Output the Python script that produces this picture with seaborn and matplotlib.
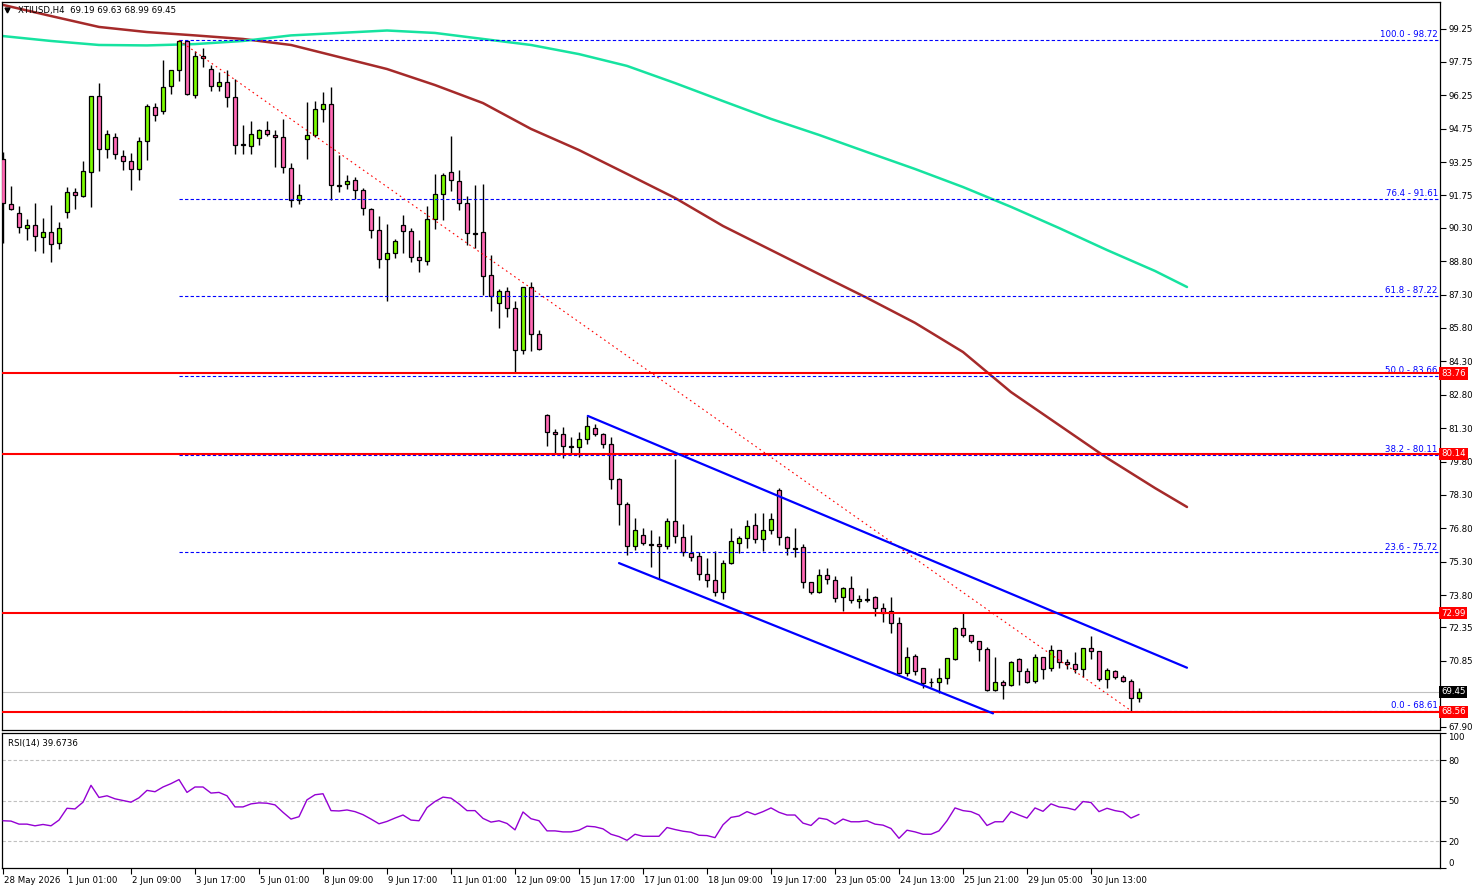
import numpy as np
import pandas as pd
import matplotlib
matplotlib.use("Agg")
import matplotlib.pyplot as plt
import matplotlib.transforms as mtransforms
import seaborn as sns

# ---------------- data ----------------
opens = [93.38, 91.37, 90.95, 90.28, 90.41, 89.87, 90.10, 89.60, 91.00, 91.89,
         91.74, 92.79, 96.20, 93.82, 94.36, 93.51, 93.29, 92.93, 94.18, 95.71,
         95.53, 96.65, 97.37, 98.67, 96.25, 98.00, 97.42, 96.65, 96.83, 96.16,
         94.07, 93.96, 94.32, 94.68, 94.45, 94.36, 92.97, 91.53, 94.27, 94.45,
         95.62, 95.85, 92.23, 92.25, 92.43, 91.98, 91.13, 90.19, 88.88, 89.15,
         90.41, 90.14, 88.97, 88.79, 90.68, 91.80, 92.79, 92.39, 91.40, 90.07,
         90.10, 88.16, 86.91, 87.45, 86.68, 84.80, 87.63, 85.52, 81.88, 81.11,
         81.02, 80.51, 80.44, 80.80, 81.29, 81.02, 80.58, 79.00, 77.88, 76.00,
         76.49, 76.11, 76.09, 76.00, 77.12, 76.40, 75.68, 75.55, 74.74, 74.47,
         73.93, 75.23, 76.13, 76.35, 76.94, 76.31, 76.71, 78.51, 76.40, 75.93,
         75.95, 74.38, 73.93, 74.69, 74.47, 73.70, 74.11, 73.52, 73.63, 73.70,
         73.21, 73.07, 72.54, 70.32, 71.05, 70.51, 69.92, 69.89, 70.09, 70.92,
         72.32, 72.00, 71.73, 71.37, 69.53, 69.91, 69.75, 70.92, 70.38, 69.93,
         71.01, 70.51, 71.32, 70.81, 70.69, 70.47, 71.41, 71.28, 70.05, 70.38,
         70.11, 69.93, 69.19]
highs = [93.69, 92.18, 91.28, 90.69, 91.40, 90.73, 91.32, 90.55, 92.13, 92.09,
         93.30, 96.22, 96.79, 94.69, 94.54, 93.79, 93.64, 94.36, 95.85, 95.89,
         97.82, 97.39, 98.72, 98.70, 98.23, 98.36, 97.60, 97.28, 97.37, 96.97,
         94.90, 95.08, 94.72, 95.08, 94.68, 95.17, 93.20, 92.25, 95.94, 95.98,
         96.38, 96.61, 93.56, 92.66, 92.57, 92.07, 91.17, 90.81, 90.46, 89.78,
         90.87, 90.28, 89.74, 91.26, 92.70, 92.75, 94.42, 92.88, 91.71, 92.21,
         92.25, 89.06, 87.54, 87.63, 87.00, 87.65, 87.85, 85.69, 81.92, 81.25,
         81.34, 80.89, 81.11, 81.83, 81.47, 81.07, 80.89, 79.05, 77.97, 77.25,
         76.80, 76.71, 76.44, 77.25, 79.90, 77.01, 76.49, 75.72, 75.45, 75.77,
         75.37, 76.80, 76.44, 77.16, 77.48, 77.48, 77.48, 78.60, 76.44, 76.80,
         76.09, 74.40, 74.96, 75.01, 74.65, 74.15, 74.65, 73.79, 74.11, 73.75,
         73.43, 73.73, 72.83, 71.46, 71.14, 70.52, 70.09, 70.54, 70.97, 72.36,
         73.03, 72.01, 71.74, 71.46, 71.01, 70.00, 70.86, 70.96, 70.51, 71.14,
         71.02, 71.55, 71.33, 70.92, 71.23, 71.42, 71.95, 71.29, 70.51, 70.42,
         70.20, 70.05, 69.63]
lows = [89.60, 91.10, 90.05, 89.75, 89.27, 89.15, 88.75, 89.36, 90.75, 91.16,
        91.70, 91.25, 92.86, 93.45, 93.40, 92.91, 92.01, 92.46, 93.36, 95.11,
        95.42, 96.29, 96.91, 96.25, 96.12, 97.51, 96.43, 96.43, 95.71, 93.60,
        93.60, 93.60, 94.03, 94.41, 93.02, 92.77, 91.22, 91.38, 93.38, 94.36,
        95.06, 91.53, 91.89, 92.03, 91.58, 90.86, 89.83, 88.48, 87.00, 88.93,
        89.15, 88.75, 88.30, 88.61, 90.23, 90.65, 91.94, 91.08, 89.51, 89.38,
        87.27, 86.55, 85.78, 86.28, 83.81, 84.62, 84.75, 84.80, 80.49, 80.17,
        79.95, 80.17, 79.99, 80.58, 80.93, 80.40, 78.55, 76.94, 75.59, 75.81,
        76.04, 75.05, 74.51, 75.86, 76.13, 75.55, 75.32, 74.47, 74.15, 73.75,
        73.61, 75.18, 75.68, 75.90, 76.13, 75.77, 76.53, 76.04, 75.59, 75.50,
        74.11, 73.84, 73.90, 74.29, 73.48, 73.07, 73.43, 73.21, 73.48, 72.88,
        72.61, 72.09, 70.28, 70.17, 70.20, 69.62, 69.66, 69.39, 69.80, 70.87,
        71.91, 71.64, 70.83, 69.48, 69.48, 69.12, 69.74, 69.75, 69.84, 69.84,
        70.02, 70.38, 70.54, 70.47, 70.29, 70.11, 70.92, 69.96, 69.62, 70.02,
        69.92, 68.61, 68.99]
closes = [91.40, 91.16, 90.32, 90.41, 89.92, 90.10, 89.56, 90.28, 91.89, 91.76,
          92.84, 96.20, 93.82, 94.50, 93.60, 93.29, 92.93, 94.18, 95.76, 95.35,
          96.61, 97.37, 98.67, 96.29, 98.00, 97.91, 96.65, 96.83, 96.16, 94.00,
          94.03, 94.50, 94.68, 94.50, 94.36, 93.02, 91.53, 91.76, 94.45, 95.62,
          95.85, 92.21, 92.19, 92.39, 91.98, 91.17, 90.19, 88.88, 89.15, 89.69,
          90.14, 88.97, 88.84, 90.68, 91.80, 92.66, 92.43, 91.40, 90.05, 90.03,
          88.12, 87.22, 87.45, 86.68, 84.80, 87.63, 85.52, 84.84, 81.11, 81.02,
          80.49, 80.47, 80.80, 81.38, 81.02, 80.58, 79.00, 77.88, 76.00, 76.71,
          76.13, 76.07, 76.00, 77.12, 76.44, 75.72, 75.50, 74.74, 74.47, 73.93,
          75.23, 76.22, 76.35, 76.89, 76.31, 76.71, 77.21, 76.40, 75.90, 75.89,
          74.38, 73.93, 74.69, 74.51, 73.66, 74.11, 73.57, 73.61, 73.59, 73.21,
          73.01, 72.54, 70.30, 71.01, 70.38, 69.84, 69.88, 70.09, 70.96, 72.32,
          72.00, 71.73, 71.37, 69.53, 69.89, 69.75, 70.78, 70.38, 69.89, 71.01,
          70.47, 71.32, 70.81, 70.69, 70.47, 71.41, 71.28, 70.05, 70.42, 70.11,
          69.93, 69.19, 69.45]

rsi_values = [35.0, 34.75, 32.5, 32.5, 31.25, 32.25, 31.25, 35.5, 44.25, 43.75,
              48.75, 61.25, 52.25, 53.5, 51.25, 50.0, 48.75, 52.0, 57.5, 56.5,
              60.0, 62.5, 65.5, 56.0, 60.0, 60.0, 55.5, 56.0, 53.5, 45.25,
              45.25, 47.5, 48.25, 48.0, 46.75, 41.25, 36.25, 38.0, 50.5, 54.25,
              55.0, 42.5, 42.25, 43.0, 41.75, 39.5, 36.25, 32.75, 34.5, 37.0,
              39.25, 35.5, 35.0, 44.75, 49.25, 52.5, 51.75, 47.5, 42.5, 42.5,
              36.75, 34.0, 35.0, 33.0, 28.25, 41.5, 36.5, 35.0, 27.5, 27.5,
              26.75, 26.75, 28.0, 31.0, 30.5, 29.0, 25.0, 23.25, 20.5, 25.0,
              23.5, 23.5, 23.5, 30.0, 28.5, 27.25, 26.5, 24.25, 24.0, 22.5,
              32.0, 37.5, 38.5, 41.75, 39.5, 41.75, 44.5, 41.25, 39.25, 39.25,
              33.25, 31.5, 37.0, 36.0, 32.5, 36.25, 34.25, 34.25, 35.0, 32.5,
              31.75, 29.25, 22.0, 28.0, 26.75, 25.0, 25.0, 27.5, 35.0, 44.5,
              42.5, 41.75, 39.25, 31.5, 34.25, 34.25, 41.75, 39.25, 37.0, 44.5,
              42.0, 47.5, 45.25, 44.5, 43.0, 49.25, 48.5, 41.75, 44.25, 42.5,
              41.5, 37.0, 39.67]

ma_bars = [0, 6, 12, 18, 24, 30, 36, 42, 48, 54, 60, 66, 72, 78, 84, 90, 96,
           102, 108, 114, 120, 126, 132, 138, 144, 148]
ma_slow = [100.31, 99.81, 99.32, 99.09, 98.94, 98.78, 98.51, 97.97, 97.43, 96.71,
           95.90, 94.74, 93.79, 92.72, 91.64, 90.38, 89.30, 88.22, 87.15, 86.03,
           84.72, 82.92, 81.44, 79.96, 78.61, 77.76]
ma_long = [98.91, 98.69, 98.51, 98.49, 98.55, 98.69, 98.94, 99.05, 99.16, 99.05,
           98.78, 98.51, 98.10, 97.57, 96.80, 95.99, 95.19, 94.47, 93.70, 92.94,
           92.13, 91.24, 90.29, 89.30, 88.36, 87.64]

fib_ratios = ["100.0", "76.4", "61.8", "50.0", "38.2", "23.6", "0.0"]
fib_prices = [98.72, 91.61, 87.22, 83.66, 80.11, 75.72, 68.61]
fib_start_bar = 22
fib_trend_bars = [22, 141]
fib_trend_prices = [98.72, 68.61]

red_levels = [83.76, 80.14, 72.99, 68.56]
bid_price = 69.45

chan_upper_bars = [73.1, 148.0]
chan_upper_prices = [81.85, 70.54]
chan_lower_bars = [77.0, 123.75]
chan_lower_prices = [75.24, 68.49]

price_ticks = [99.25, 97.75, 96.25, 94.75, 93.25, 91.75, 90.30, 88.80, 87.30,
               85.80, 84.30, 82.80, 81.30, 79.80, 78.30, 76.80, 75.30, 73.80,
               72.35, 70.85, 69.35, 67.90]
hidden_ticks = [69.35]
time_labels = ["28 May 2026", "1 Jun 01:00", "2 Jun 09:00", "3 Jun 17:00",
               "5 Jun 01:00", "8 Jun 09:00", "9 Jun 17:00", "11 Jun 01:00",
               "12 Jun 09:00", "15 Jun 17:00", "17 Jun 01:00", "18 Jun 09:00",
               "19 Jun 17:00", "23 Jun 05:00", "24 Jun 13:00", "25 Jun 21:00",
               "29 Jun 05:00", "30 Jun 13:00"]
rsi_levels = [80, 50, 20]

symbol_header = "XTIUSD,H4  69.19 69.63 68.99 69.45"
rsi_header = "RSI(14) 39.6736"

# ---------------- style ----------------
sns.set_theme(style="white")
plt.rcParams['font.family'] = ['DejaVu Sans']
FS = 6.2

W, H = 1479, 888
fig = plt.figure(figsize=(W / 100, H / 100), dpi=100)
fig.patch.set_facecolor("white")
L, R = 2, 1440
ax = fig.add_axes([L / W, 1 - 730 / H, (R - L) / W, (730 - 2) / H])
axr = fig.add_axes([L / W, 1 - 868 / H, (R - L) / W, (868 - 733) / H])

df = pd.DataFrame({"bar": np.arange(len(opens)), "open": opens, "high": highs,
                   "low": lows, "close": closes})
df["up"] = df["close"] >= df["open"]
df["body_lo"] = df[["open", "close"]].min(axis=1)
df["body_h"] = (df["close"] - df["open"]).abs().clip(lower=0.035)
df["color"] = np.where(df["up"], "#7cfc00", "#ff69b4")

xlim = ((L - 3) / 8.0, (R - 3) / 8.0)

# moving averages
sns.lineplot(x=ma_bars, y=ma_slow, ax=ax, color="#a52a2a", lw=1.8, zorder=2)
sns.lineplot(x=ma_bars, y=ma_long, ax=ax, color="#16e3a0", lw=1.8, zorder=2)

# bid line
ax.axhline(bid_price, color="#c0c0c0", lw=0.8, zorder=1)

# candles
ax.vlines(df["bar"], df["low"], df["high"], color="black", lw=1.0, zorder=3)
ax.bar(df["bar"], df["body_h"], bottom=df["body_lo"], width=0.6,
       color=df["color"], edgecolor="black", linewidth=0.9, zorder=4)

# fibonacci
ax.hlines(fib_prices, fib_start_bar, xlim[1], colors="#0000ff", lw=0.8,
          linestyles=(0, (3, 2)), zorder=5)
ax.plot(fib_trend_bars, fib_trend_prices, color="red", lw=0.8,
        linestyle=(0, (1.5, 3)), zorder=5)
ytr = ax.get_yaxis_transform()
for r, p in zip(fib_ratios, fib_prices):
    ax.text(0.9985, p + 0.04, f"{r} - {p:.2f}", transform=ytr, ha="right",
            va="bottom", color="#0000ff", fontsize=FS, zorder=6)

# red horizontal levels
for v in red_levels:
    ax.axhline(v, color="red", lw=1.5, zorder=6)

# channel
ax.plot(chan_upper_bars, chan_upper_prices, color="#0000ff", lw=1.6, zorder=6)
ax.plot(chan_lower_bars, chan_lower_prices, color="#0000ff", lw=1.6, zorder=6)

ax.set_xlim(*xlim)
ax.set_ylim(99.25 - (730 - 28.5) / 22.265, 99.25 + (28.5 - 2) / 22.265)
ax.yaxis.tick_right()
ax.set_yticks(price_ticks)
ax.set_yticklabels(["" if t in hidden_ticks else f"{t:.2f}" for t in price_ticks])
ax.tick_params(axis="y", right=True, left=False, direction="out", length=4,
               width=0.8, labelsize=FS, pad=2, colors="black")
ax.tick_params(axis="x", bottom=False, labelbottom=False)
ax.set_xlabel("")
ax.set_ylabel("")

# right side price boxes
for v in red_levels:
    ax.text(1.0008, v, f"{v:.2f}", transform=ytr, ha="left", va="center",
            color="white", fontsize=FS, zorder=10, clip_on=False,
            bbox=dict(facecolor="red", edgecolor="none", pad=1.3))
ax.text(1.0008, bid_price, f"{bid_price:.2f}", transform=ytr, ha="left",
        va="center", color="white", fontsize=FS, zorder=10, clip_on=False,
        bbox=dict(facecolor="black", edgecolor="none", pad=1.3))

# header
ax.text(0.011, 0.994, symbol_header, transform=ax.transAxes, ha="left",
        va="top", fontsize=FS, color="black", zorder=10)
ax.plot([0.0035], [0.9895], marker="v", markersize=3.5, color="black",
        transform=ax.transAxes, clip_on=False, zorder=10)

# RSI panel
rsi_df = pd.DataFrame({"bar": np.arange(len(rsi_values)), "rsi": rsi_values})
for lv in rsi_levels:
    axr.axhline(lv, color="#c0c0c0", lw=0.8, linestyle=(0, (3, 2)), zorder=1)
sns.lineplot(data=rsi_df, x="bar", y="rsi", ax=axr, color="#9400d3", lw=1.0,
             zorder=3)
axr.set_xlim(*xlim)
axr.set_ylim(0, 100)
axr.yaxis.tick_right()
axr.set_yticks([0, 20, 50, 80, 100])
axr.set_yticklabels(["0", "20", "50", "80", "100"])
axr.tick_params(axis="y", right=True, left=False, direction="out", length=4,
                width=0.8, labelsize=FS, pad=2, colors="black")
for lab in axr.get_yticklabels():
    if lab.get_text() == "100":
        lab.set_verticalalignment("top")
    elif lab.get_text() == "0":
        lab.set_verticalalignment("bottom")
tick_bars = np.arange(len(time_labels)) * 8
axr.set_xticks(tick_bars)
axr.set_xticklabels(time_labels)
axr.tick_params(axis="x", bottom=True, direction="out", length=4, width=0.8,
                labelsize=FS, pad=1.5, colors="black")
offset = mtransforms.ScaledTranslation(1.5 / 100, 0, fig.dpi_scale_trans)
for lab in axr.get_xticklabels():
    lab.set_horizontalalignment("left")
    lab.set_transform(lab.get_transform() + offset)
axr.set_xlabel("")
axr.set_ylabel("")
axr.text(0.004, 0.955, rsi_header, transform=axr.transAxes, ha="left",
         va="top", fontsize=FS, color="black")

for a in (ax, axr):
    a.set_facecolor("white")
    for s in a.spines.values():
        s.set_color("black")
        s.set_linewidth(0.9)
    a.grid(False)

fig.savefig("out.png", dpi=100, facecolor="white")
